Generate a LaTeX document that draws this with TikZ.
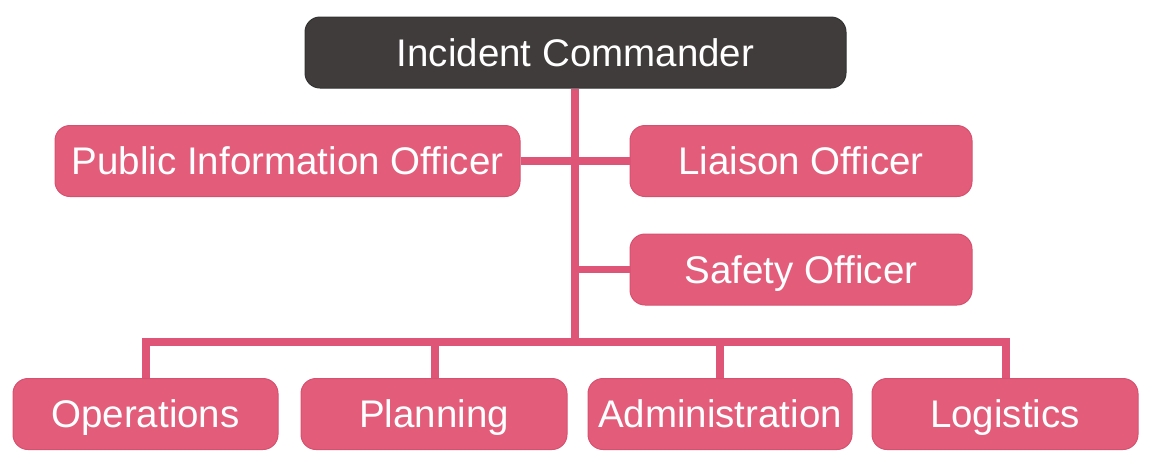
\documentclass[tikz,border=0pt]{standalone}
\usepackage{fontspec}
\setmainfont{Liberation Sans}
\definecolor{boxpink}{HTML}{E35D7B}
\definecolor{edgepink}{HTML}{D8506F}
\definecolor{linepink}{HTML}{DE5577}
\definecolor{darkbox}{HTML}{403C3B}
\begin{document}
\begin{tikzpicture}[x=1pt,y=-1pt,
  box/.style={rectangle, rounded corners=15pt, fill=boxpink, draw=edgepink, line width=1pt,
    text=white, inner sep=0pt, minimum height=71pt, text height=27.6pt, text depth=0pt,
    font=\fontsize{38.5}{44}\selectfont},
  topbox/.style={box, fill=darkbox, draw=black!80},
  conn/.style={draw=linepink, line width=7.5pt}]
\useasboundingbox (0,0) rectangle (1158,467);
\coordinate (busc) at (575,342);
\node[topbox, minimum width=541pt] (ic) at (575.5,52.5) {Incident Commander};
\node[box, minimum width=465pt] (pio) at (287.5,161) {Public Information Officer};
\node[box, minimum width=342pt] (lia) at (801,161) {Liaison Officer};
\node[box, minimum width=342pt] (saf) at (801,269.5) {Safety Officer};
\node[box, minimum width=265pt] (ops) at (145.5,414) {Operations};
\node[box, minimum width=266pt] (pla) at (434,414) {Planning};
\node[box, minimum width=264pt] (adm) at (720,414) {Administration};
\node[box, minimum width=266pt] (log) at (1005,414) {Logistics};
\draw[conn] (ic.south -| busc) -- (busc);
\draw[conn] (pio.east) -- (lia.west);
\draw[conn] (busc |- saf.west) -- (saf.west);
\draw[conn, line join=miter] ([xshift=0.5pt]ops.north) |- (busc) -| ([xshift=1pt]log.north);
\draw[conn] ([xshift=1pt]pla.north) -- ([xshift=1pt]pla.north |- busc);
\draw[conn] (adm.north) -- (adm.north |- busc);
\end{tikzpicture}
\end{document}
